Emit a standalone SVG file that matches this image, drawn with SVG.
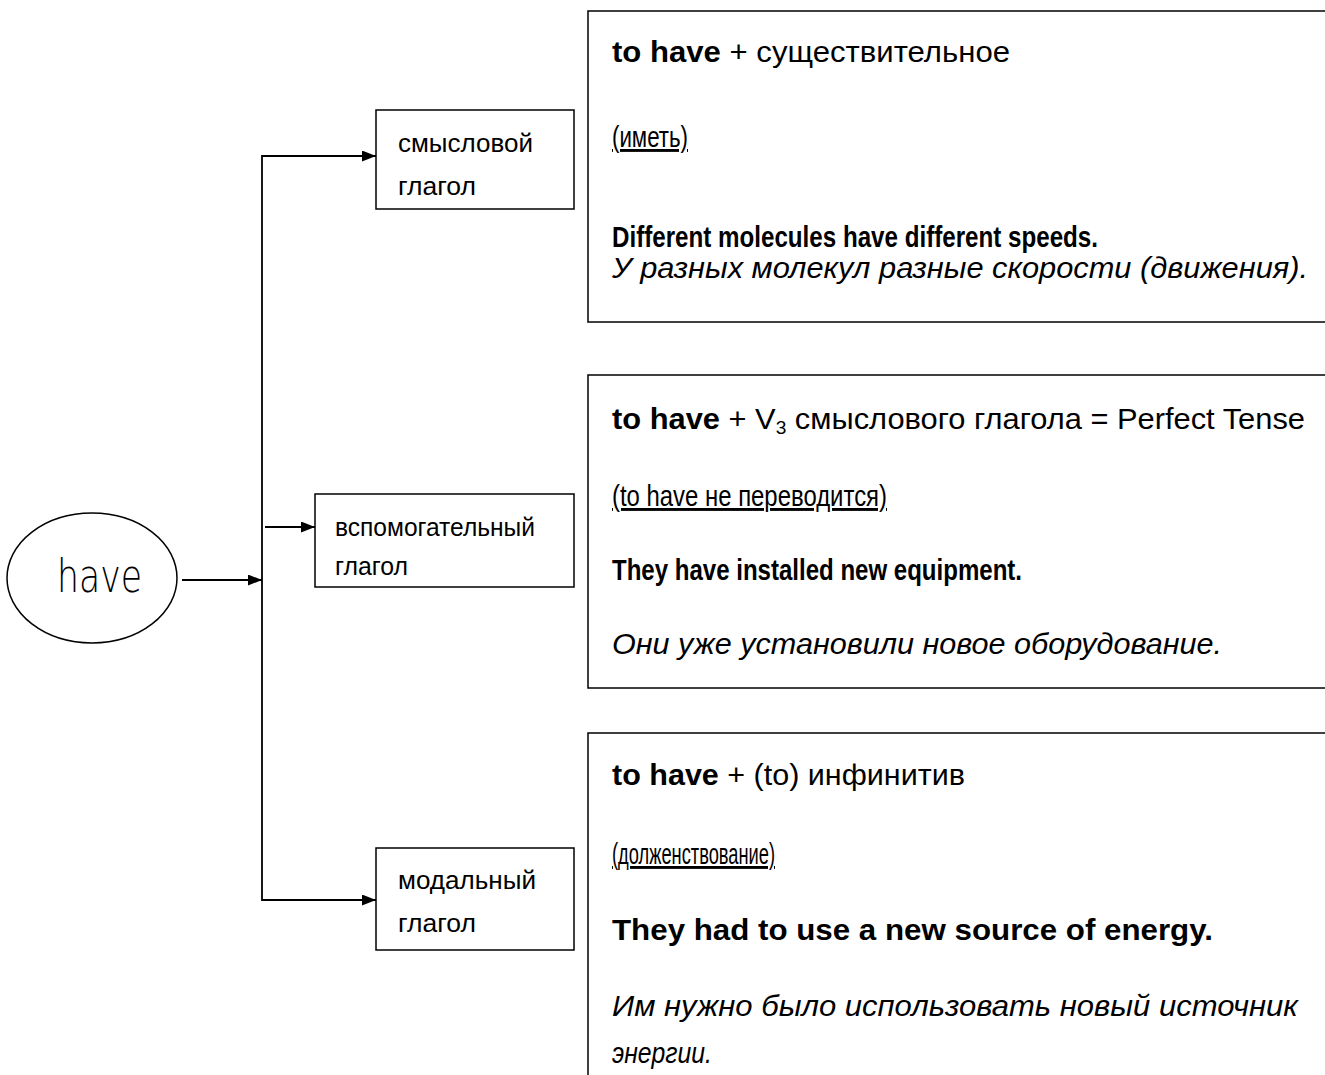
<svg xmlns="http://www.w3.org/2000/svg" width="1325" height="1075" viewBox="0 0 1325 1075">
<style>
.box{fill:#fff;stroke:#000;stroke-width:1.5}
.ln{fill:none;stroke:#000;stroke-width:1.8}
text{font-family:"Liberation Sans",Arial,sans-serif;fill:#000}
.s{font-size:25px}
.b{font-size:29px}
.i{font-size:30px;font-style:italic}
.bd{font-weight:bold}
.u{text-decoration:underline}
</style>
<defs>
<marker id="ah" viewBox="0 0 14 11" refX="14" refY="5.5" markerWidth="14" markerHeight="11" markerUnits="userSpaceOnUse" orient="auto">
<path d="M0,0 L14,5.5 L0,11 z" fill="#000"/>
</marker>
</defs>
<g id="connectors">
<line class="ln" x1="182" y1="580" x2="262" y2="580" marker-end="url(#ah)"/>
<polyline class="ln" points="300,156 262,156 262,900 300,900"/>
<line class="ln" x1="262" y1="156" x2="376" y2="156" marker-end="url(#ah)"/>
<line class="ln" x1="262" y1="900" x2="376" y2="900" marker-end="url(#ah)"/>
<line class="ln" x1="265" y1="527" x2="315" y2="527" marker-end="url(#ah)"/>
</g>
<g id="have">
<ellipse class="box" cx="92" cy="578" rx="85" ry="65"/>
<text x="57" y="592" font-size="46" font-weight="200" textLength="85" lengthAdjust="spacingAndGlyphs" style="font-family:'DejaVu Sans','Liberation Sans',sans-serif">have</text>
</g>
<g id="n1">
<rect class="box" x="376" y="110" width="198" height="99"/>
<text class="s" x="398" y="152" textLength="135" lengthAdjust="spacingAndGlyphs">смысловой</text>
<text class="s" x="398" y="195" textLength="78" lengthAdjust="spacingAndGlyphs">глагол</text>
</g>
<g id="n2">
<rect class="box" x="315" y="494" width="259" height="93"/>
<text class="s" x="335" y="536" textLength="200" lengthAdjust="spacingAndGlyphs">вспомогательный</text>
<text class="s" x="335" y="575" textLength="73" lengthAdjust="spacingAndGlyphs">глагол</text>
</g>
<g id="n3">
<rect class="box" x="376" y="848" width="198" height="102"/>
<text class="s" x="398" y="889" textLength="138" lengthAdjust="spacingAndGlyphs">модальный</text>
<text class="s" x="398" y="932" textLength="78" lengthAdjust="spacingAndGlyphs">глагол</text>
</g>
<g id="d1">
<rect class="box" x="588" y="11" width="745" height="311"/>
<text class="b" x="612" y="62" textLength="398" lengthAdjust="spacingAndGlyphs"><tspan class="bd">to have</tspan> +  существительное</text>
<text class="b u" x="612" y="147" textLength="76" lengthAdjust="spacingAndGlyphs">(иметь)</text>
<text class="b bd" x="612" y="247" textLength="486" lengthAdjust="spacingAndGlyphs">Different molecules have different speeds.</text>
<text class="i" x="612" y="278" textLength="696" lengthAdjust="spacingAndGlyphs">У разных молекул разные скорости (движения).</text>
</g>
<g id="d2">
<rect class="box" x="588" y="375" width="745" height="313"/>
<text class="b" x="612" y="429" textLength="693" lengthAdjust="spacingAndGlyphs"><tspan class="bd">to have</tspan> + V<tspan font-size="18" dy="5">3</tspan><tspan dy="-5"> смыслового глагола = Perfect Tense</tspan></text>
<text class="b u" x="612" y="506" textLength="275" lengthAdjust="spacingAndGlyphs">(to have не переводится)</text>
<text class="b bd" x="612" y="580" textLength="410" lengthAdjust="spacingAndGlyphs">They have installed new equipment.</text>
<text class="i" x="612" y="654" textLength="610" lengthAdjust="spacingAndGlyphs">Они уже установили новое оборудование.</text>
</g>
<g id="d3">
<rect class="box" x="588" y="733" width="745" height="360"/>
<text class="b" x="612" y="785" textLength="353" lengthAdjust="spacingAndGlyphs"><tspan class="bd">to have</tspan> + (to) инфинитив</text>
<text class="b u" x="612" y="864" textLength="163" lengthAdjust="spacingAndGlyphs">(долженствование)</text>
<text class="b bd" x="612" y="940" textLength="601" lengthAdjust="spacingAndGlyphs">They had to use a new source of energy.</text>
<text class="i" x="612" y="1016" textLength="686" lengthAdjust="spacingAndGlyphs">Им нужно было использовать новый источник</text>
<text class="i" x="612" y="1063" textLength="100" lengthAdjust="spacingAndGlyphs">энергии.</text>
</g>
</svg>
